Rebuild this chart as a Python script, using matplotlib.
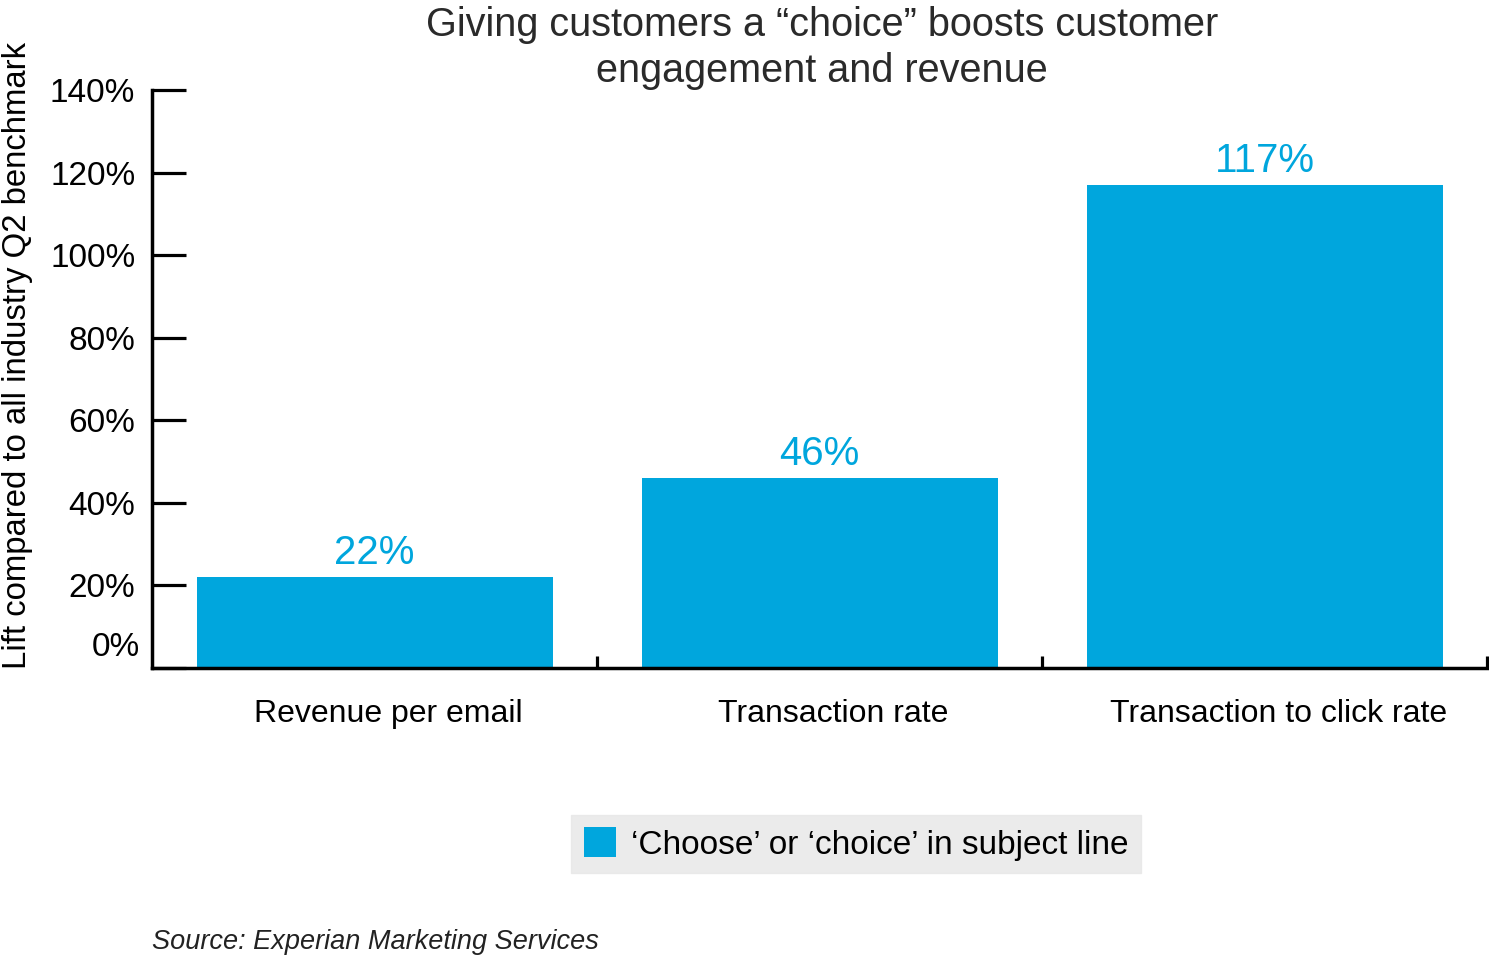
import matplotlib.pyplot as plt
import matplotlib.transforms as mtransforms
from matplotlib.patches import Patch

categories = ["Revenue per email", "Transaction rate", "Transaction to click rate"]
lift = [22, 46, 117]
yticks = [0, 20, 40, 60, 80, 100, 120, 140]
series_name = "\u2018Choose\u2019 or \u2018choice\u2019 in subject line"

blue = "#00A6DD"
plt.rcParams['font.family'] = ['Liberation Sans', 'DejaVu Sans']

fig = plt.figure(figsize=(14.89, 9.59), dpi=100)
ax = fig.add_axes([152 / 1489, 291 / 959, 1335 / 1489, 578 / 959])

x = range(len(categories))
bars = ax.bar(x, lift, width=0.8, color=blue, zorder=1)
for xi, v in zip(x, lift):
    ax.text(xi, v + 1.2, f"{v}%", ha='center', va='bottom', color=blue, fontsize=29)

ax.set_xlim(-0.5, 2.5)
ax.set_ylim(0, 140)
ax.set_yticks(yticks)
ax.set_yticklabels([f"{t}%" for t in yticks], fontsize=24)
ax.tick_params(axis='y', direction='in', length=24.5, width=2.3, pad=12)
# categories labelled at bar centres, separators between them
ax.set_xticks(list(x))
ax.set_xticklabels(categories, fontsize=23)
ax.tick_params(axis='x', length=0, pad=22)
ax.set_xticks([0.5, 1.5, 2.5], minor=True)
ax.tick_params(axis='x', which='minor', direction='in', length=9, width=2.3)

# nudge labels the way the original has them
shift = mtransforms.ScaledTranslation(14 / 100, 0, fig.dpi_scale_trans)
for lab in ax.get_xticklabels():
    lab.set_transform(lab.get_transform() + shift)
lab0 = ax.get_yticklabels()[0]
lab0.set_transform(lab0.get_transform() + mtransforms.ScaledTranslation(5 / 100, 24 / 100, fig.dpi_scale_trans))

for s in ['top', 'right']:
    ax.spines[s].set_visible(False)
for s in ['left', 'bottom']:
    ax.spines[s].set_linewidth(2.5)

fig.text(18 / 1489, 1 - 355 / 959, "Lift compared to all industry Q2 benchmark", rotation=90,
         ha='center', va='center', fontsize=23.7)
fig.text(822 / 1489, 1 - 48 / 959, "Giving customers a \u201cchoice\u201d boosts customer\nengagement and revenue",
         ha='center', va='center', fontsize=28.5, linespacing=1.3, color='#2a2a2a')

leg = fig.legend(handles=[Patch(facecolor=blue, label=series_name)], loc='center',
                 bbox_to_anchor=(856 / 1489, 1 - 844 / 959), fontsize=24, frameon=True,
                 fancybox=False, handlelength=0.95, handleheight=1.0, borderpad=0.38,
                 borderaxespad=0, handletextpad=0.45)
leg.get_frame().set_facecolor('#E6E6E6')
leg.get_frame().set_edgecolor('#E6E6E6')

fig.text(152 / 1489, 1 - 942 / 959, "Source: Experian Marketing Services", style='italic',
         ha='left', va='center', fontsize=19.5, color='#222222')

fig.savefig("out.png", dpi=100)
